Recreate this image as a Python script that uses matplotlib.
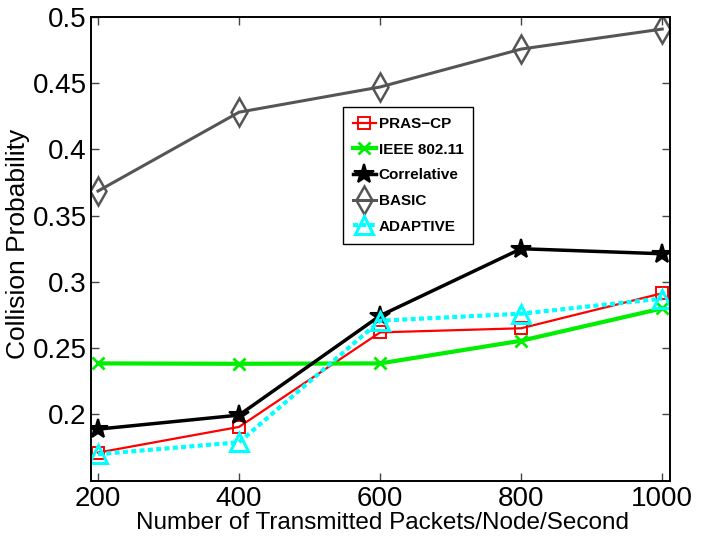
import matplotlib
matplotlib.use("Agg")
import matplotlib.pyplot as plt

# data
packets = [200, 400, 600, 800, 1000]
pras_cp = [0.1712, 0.1906, 0.2619, 0.2650, 0.2914]
ieee80211 = [0.2385, 0.2382, 0.2385, 0.2556, 0.2800]
correlative = [0.1889, 0.1995, 0.2745, 0.3250, 0.3212]
basic = [0.3685, 0.4280, 0.4470, 0.4756, 0.4907]
adaptive = [0.1700, 0.1790, 0.2707, 0.2760, 0.2874]

yticks = [0.2, 0.25, 0.3, 0.35, 0.4, 0.45, 0.5]
ytick_labels = ["0.2", "0.25", "0.3", "0.35", "0.4", "0.45", "0.5"]

plt.rcParams['font.family'] = ['Liberation Sans', 'DejaVu Sans']

fig = plt.figure(figsize=(7.08, 5.43), dpi=100)
ax = fig.add_axes([0.1285, 0.1147, 0.8178, 0.8545])

ax.plot(packets, pras_cp, color='#ff0000', lw=1.6, marker='s', ms=8,
        mfc='none', mec='#ff0000', mew=1.4, label='PRAS\u2212CP')
ax.plot(packets, ieee80211, color='#00ee00', lw=3, marker='x', ms=8,
        mec='#00ee00', mew=2, label='IEEE 802.11')
ax.plot(packets, correlative, color='black', lw=2.5, marker='*', ms=15,
        mfc='black', mec='black', mew=1.5, label='Correlative')
ax.plot(packets, basic, color='#555555', lw=2.2, marker='d', ms=14,
        mfc='none', mec='#555555', mew=1.8, label='BASIC')
ax.plot(packets, adaptive, color='#00ffff', lw=3, ls=(0, (1.2, 0.8)),
        marker='^', ms=13, mfc='none', mec='#00ffff', mew=2.2, label='ADAPTIVE')

ax.set_xlim(190, 1011)
ax.set_ylim(0.15, 0.5)
ax.set_xticks(packets)
ax.set_xticklabels([str(p) for p in packets])
ax.set_yticks(yticks)
ax.set_yticklabels(ytick_labels)

ax.tick_params(direction='in', length=6, width=1, top=True, right=True,
               labelsize=20, color='#444444')
ax.tick_params(axis='x', pad=4)
ax.tick_params(axis='y', pad=3)
for s in ax.spines.values():
    s.set_linewidth(1.4)

ax.set_xlabel('Number of Transmitted Packets/Node/Second', fontsize=17.5)
ax.set_ylabel('Collision Probability', fontsize=19)
ax.xaxis.set_label_coords(0.504, -0.068)
ax.yaxis.set_label_coords(-0.106, 0.51)

leg = ax.legend(loc='upper left', bbox_to_anchor=(0.435, 0.805),
                prop={'weight': 'bold', 'size': 11}, handlelength=1.5,
                handletextpad=0.2, borderpad=0.65, labelspacing=0.76,
                borderaxespad=0, fancybox=False, framealpha=1,
                edgecolor='black')
leg.get_frame().set_linewidth(1.0)

fig.savefig('out.png', dpi=100)
